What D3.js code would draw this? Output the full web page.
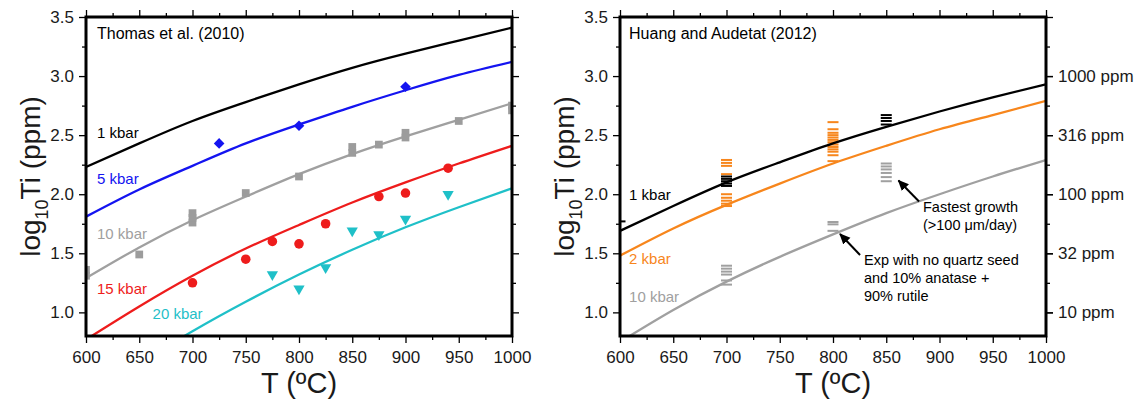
<!DOCTYPE html>
<html>
<head>
<meta charset="utf-8">
<script src="https://cdn.jsdelivr.net/npm/d3@7"></script>
<style>
  body { margin: 0; background: #fff; }
  text { font-family: "Liberation Sans", Arial, Helvetica, sans-serif; }
</style>
</head>
<body>
<svg id="chart" width="1140" height="404"></svg>
<script>
// temperatures (deg C) where the model curves were read
var temps = [600, 650, 700, 750, 800, 850, 900, 950, 1000];

// Thomas et al. (2010) curves, log10 Ti (ppm)
var thomas1kbar  = [2.23, 2.43, 2.62, 2.78, 2.93, 3.07, 3.19, 3.30, 3.41];
var thomas5kbar  = [1.81, 2.04, 2.24, 2.43, 2.59, 2.74, 2.88, 3.01, 3.12];
var thomas10kbar = [1.29, 1.55, 1.78, 1.98, 2.17, 2.34, 2.49, 2.63, 2.77];
var thomas15kbar = [0.77, 1.05, 1.31, 1.54, 1.74, 1.93, 2.10, 2.26, 2.41];
var thomas20kbar = [0.25, 0.56, 0.84, 1.09, 1.32, 1.53, 1.72, 1.89, 2.05];

// Huang and Audetat (2012) curves
var huang1kbar  = [1.69, 1.90, 2.10, 2.27, 2.43, 2.57, 2.70, 2.82, 2.93];
var huang2kbar  = [1.48, 1.71, 1.91, 2.09, 2.26, 2.41, 2.55, 2.67, 2.79];
var huang10kbar = [0.75, 1.02, 1.26, 1.47, 1.66, 1.84, 2.00, 2.15, 2.29];

// Thomas experiments
var diamondT = [725, 800, 900];
var diamondV = [2.43, 2.58, 2.91];
var squareT = [600, 600, 650, 700, 700, 700, 750, 800, 850, 850, 875, 900, 900, 950, 1000, 1000];
var squareV = [1.31, 1.36, 1.49, 1.76, 1.80, 1.84, 2.01, 2.15, 2.35, 2.40, 2.42, 2.48, 2.52, 2.62, 2.71, 2.75];
var circleT = [700, 750, 775, 800, 825, 875, 900, 940];
var circleV = [1.25, 1.45, 1.60, 1.58, 1.75, 1.98, 2.01, 2.22];
var triT = [775, 800, 825, 850, 875, 900, 940];
var triV = [1.32, 1.20, 1.38, 1.69, 1.66, 1.79, 2.00];

// Huang experiments (individual analyses)
var blackDashT = [600, 700, 700, 700, 700, 700, 850, 850, 850, 850];
var blackDashV = [1.77, 2.07, 2.09, 2.11, 2.13, 2.15, 2.59, 2.62, 2.645, 2.67];
var orangeDashT = [700, 700, 700, 700, 700, 700, 700, 700, 700,
                   800, 800, 800, 800, 800, 800, 800, 800, 800, 800, 800, 800, 800, 800];
var orangeDashV = [2.29, 2.265, 2.24, 2.17, 2.00, 1.97, 1.945, 1.92, 1.90,
                   2.61, 2.55, 2.52, 2.50, 2.48, 2.46, 2.44, 2.42, 2.40, 2.38, 2.36, 2.33, 2.28];
var grayDashT = [700, 700, 700, 700, 700, 700, 800, 800, 800, 850, 850, 850, 850, 850, 850];
var grayDashV = [1.395, 1.37, 1.345, 1.32, 1.27, 1.235, 1.765, 1.745, 1.69, 2.26, 2.235, 2.21, 2.18, 2.145, 2.11];

// axis ticks
var xMajor = [600, 650, 700, 750, 800, 850, 900, 950, 1000];
var xMinor = [625, 675, 725, 775, 825, 875, 925, 975];
var yMajor = [1.0, 1.5, 2.0, 2.5, 3.0, 3.5];
var yMinor = [1.25, 1.75, 2.25, 2.75, 3.25];
var ppmTicks = [1.0, 1.5, 2.0, 2.5, 3.0];
var ppmLabels = ["10 ppm", "32 ppm", "100 ppm", "316 ppm", "1000 ppm"];

var colBlack = "#000", colBlue = "#1414f0", colGray = "#a0a0a0", colRed = "#ee1c1c",
    colCyan = "#1fc0c8", colOrange = "#f7861c";

var svg = d3.select("#chart");
svg.append("rect").attr("width", 1140).attr("height", 404).attr("fill", "#fff");
var defs = svg.append("defs");

var y = d3.scaleLinear().domain([0.8, 3.5]).range([336, 17]);
var xLeft = d3.scaleLinear().domain([600, 1000]).range([86, 512]);
var xRight = d3.scaleLinear().domain([600, 1000]).range([620, 1046]);

defs.append("marker")
  .attr("id", "arrow")
  .attr("viewBox", "0 -5 10 10")
  .attr("refX", 9).attr("refY", 0)
  .attr("markerUnits", "userSpaceOnUse")
  .attr("markerWidth", 11).attr("markerHeight", 11)
  .attr("orient", "auto")
  .append("path").attr("d", "M0,-4.5L10,0L0,4.5Z").attr("fill", "#000");

function styleAxis(sel) {
  sel.select(".domain").remove();
  sel.selectAll(".tick line").attr("stroke", "#000").attr("stroke-width", 1.3);
  sel.selectAll(".tick text").attr("font-size", "17px").attr("fill", "#1a1a1a")
    .attr("font-family", "'Liberation Sans', Arial, sans-serif");
}

function drawAxes(g, x, ppm) {
  var x0 = x.range()[0], x1 = x.range()[1], yb = y.range()[0], yt = y.range()[1];
  g.append("g").attr("transform", "translate(0," + yb + ")")
    .call(d3.axisBottom(x).tickValues(xMajor).tickSize(7).tickPadding(8).tickFormat(d3.format("d")))
    .call(styleAxis);
  g.append("g").attr("transform", "translate(0," + yb + ")")
    .call(d3.axisBottom(x).tickValues(xMinor).tickSize(4).tickFormat(""))
    .call(styleAxis);
  g.append("g").attr("transform", "translate(0," + yt + ")")
    .call(d3.axisTop(x).tickValues(xMajor).tickSize(7).tickFormat(""))
    .call(styleAxis);
  g.append("g").attr("transform", "translate(0," + yt + ")")
    .call(d3.axisTop(x).tickValues(xMinor).tickSize(4).tickFormat(""))
    .call(styleAxis);
  g.append("g").attr("transform", "translate(" + x0 + ",0)")
    .call(d3.axisLeft(y).tickValues(yMajor).tickSize(7).tickPadding(5).tickFormat(d3.format(".1f")))
    .call(styleAxis);
  g.append("g").attr("transform", "translate(" + x0 + ",0)")
    .call(d3.axisLeft(y).tickValues(yMinor).tickSize(4).tickFormat(""))
    .call(styleAxis);
  g.append("g").attr("transform", "translate(" + x1 + ",0)")
    .call(d3.axisRight(y).tickValues(yMajor).tickSize(7).tickFormat(""))
    .call(styleAxis);
  g.append("g").attr("transform", "translate(" + x1 + ",0)")
    .call(d3.axisRight(y).tickValues(yMinor).tickSize(4).tickFormat(""))
    .call(styleAxis);
  if (ppm) {
    g.append("g").attr("transform", "translate(" + x1 + ",0)")
      .call(d3.axisRight(y).tickValues(ppmTicks).tickSize(7).tickPadding(5)
        .tickFormat(function (d, i) { return ppmLabels[i]; }))
      .call(styleAxis);
  }

  // axis titles
  g.append("text")
    .attr("x", (x0 + x1) / 2).attr("y", 393)
    .attr("text-anchor", "middle").attr("font-size", "29px").attr("fill", "#1a1a1a")
    .text("T (\u00baC)");
  var yt2 = g.append("text")
    .attr("transform", "translate(" + (x0 - 46) + "," + ((yb + yt) / 2) + ") rotate(-90)")
    .attr("text-anchor", "middle").attr("font-size", "28px").attr("fill", "#1a1a1a");
  yt2.append("tspan").text("log");
  yt2.append("tspan").attr("font-size", "18px").attr("dy", 8).text("10");
  yt2.append("tspan").attr("dy", -8).text("Ti (ppm)");
}

function makeClip(id, x) {
  defs.append("clipPath").attr("id", id).append("rect")
    .attr("x", x.range()[0]).attr("y", y.range()[1])
    .attr("width", x.range()[1] - x.range()[0])
    .attr("height", y.range()[0] - y.range()[1]);
}

function drawCurve(g, x, values, color) {
  var line = d3.line()
    .x(function (d, i) { return x(temps[i]); })
    .y(function (d) { return y(d); })
    .curve(d3.curveNatural);
  g.append("path").datum(values)
    .attr("d", line)
    .attr("fill", "none")
    .attr("stroke", color)
    .attr("stroke-width", 2.3);
}

function drawSymbols(g, x, ts, vs, type, size, color, rotate) {
  var sym = d3.symbol().type(type).size(size);
  g.selectAll(null).data(vs).enter()
    .append("path")
    .attr("d", sym)
    .attr("fill", color)
    .attr("transform", function (d, i) {
      return "translate(" + x(ts[i]) + "," + y(d) + ")" + (rotate ? " rotate(" + rotate + ")" : "");
    });
}

function drawDashes(g, x, ts, vs, color) {
  g.selectAll(null).data(vs).enter()
    .append("line")
    .attr("x1", function (d, i) { return x(ts[i]) - 5.5; })
    .attr("x2", function (d, i) { return x(ts[i]) + 5.5; })
    .attr("y1", function (d) { return y(d); })
    .attr("y2", function (d) { return y(d); })
    .attr("stroke", color)
    .attr("stroke-width", 2);
}

function addLabel(g, x, t, v, txt, color, size) {
  g.append("text")
    .attr("x", x(t)).attr("y", y(v))
    .attr("font-size", size || "15px")
    .attr("fill", color)
    .text(txt);
}

function drawFrame(g, x) {
  g.append("rect")
    .attr("x", x.range()[0]).attr("y", y.range()[1])
    .attr("width", x.range()[1] - x.range()[0])
    .attr("height", y.range()[0] - y.range()[1])
    .attr("fill", "none").attr("stroke", "#000").attr("stroke-width", 3);
}

// ---- left panel: Thomas et al. (2010)
makeClip("clipL", xLeft);
var gL = svg.append("g");
drawAxes(gL, xLeft, false);
var plotL = gL.append("g").attr("clip-path", "url(#clipL)");
drawCurve(plotL, xLeft, thomas1kbar, colBlack);
drawCurve(plotL, xLeft, thomas5kbar, colBlue);
drawCurve(plotL, xLeft, thomas10kbar, colGray);
drawCurve(plotL, xLeft, thomas15kbar, colRed);
drawCurve(plotL, xLeft, thomas20kbar, colCyan);
drawSymbols(plotL, xLeft, diamondT, diamondV, d3.symbolDiamond2, 72, colBlue);
drawSymbols(plotL, xLeft, squareT, squareV, d3.symbolSquare, 60, "#9c9c9c");
drawSymbols(plotL, xLeft, circleT, circleV, d3.symbolCircle, 72, colRed);
drawSymbols(plotL, xLeft, triT, triV, d3.symbolTriangle, 55, colCyan, 180);
addLabel(gL, xLeft, 610.3, 3.315, "Thomas et al. (2010)", "#000", "16px");
addLabel(gL, xLeft, 610.3, 2.476, "1 kbar", colBlack);
addLabel(gL, xLeft, 610.3, 2.086, "5 kbar", colBlue);
addLabel(gL, xLeft, 610.3, 1.621, "10 kbar", colGray);
addLabel(gL, xLeft, 610.3, 1.155, "15 kbar", colRed);
addLabel(gL, xLeft, 662.5, 0.944, "20 kbar", colCyan);
drawFrame(gL, xLeft);

// ---- right panel: Huang and Audetat (2012)
makeClip("clipR", xRight);
var gR = svg.append("g");
drawAxes(gR, xRight, true);
var plotR = gR.append("g").attr("clip-path", "url(#clipR)");
drawDashes(plotR, xRight, orangeDashT, orangeDashV, colOrange);
drawDashes(plotR, xRight, grayDashT, grayDashV, colGray);
drawDashes(plotR, xRight, blackDashT, blackDashV, colBlack);
drawCurve(plotR, xRight, huang1kbar, colBlack);
drawCurve(plotR, xRight, huang2kbar, colOrange);
drawCurve(plotR, xRight, huang10kbar, colGray);
addLabel(gR, xRight, 608.5, 3.315, "Huang and Audetat (2012)", "#000", "16px");
addLabel(gR, xRight, 608.5, 1.947, "1 kbar", colBlack);
addLabel(gR, xRight, 608.5, 1.409, "2 kbar", colOrange);
addLabel(gR, xRight, 608.5, 1.088, "10 kbar", colGray);

// annotations (tail -> head, in data units)
var notes = [
  { t: 880.8, v: 1.938, t2: 861.5, v2: 2.116 },
  { t: 825.4, v: 1.486, t2: 806.6, v2: 1.663 }
];
gR.selectAll(null).data(notes).enter()
  .append("line")
  .attr("x1", function (d) { return xRight(d.t); })
  .attr("y1", function (d) { return y(d.v); })
  .attr("x2", function (d) { return xRight(d.t2); })
  .attr("y2", function (d) { return y(d.v2); })
  .attr("stroke", "#000").attr("stroke-width", 2)
  .attr("marker-end", "url(#arrow)");
addLabel(gR, xRight, 884.5, 1.852, "Fastest growth", "#000", "14.5px");
addLabel(gR, xRight, 884.5, 1.697, "(>100 \u03bcm/day)", "#000", "14.5px");
addLabel(gR, xRight, 829.1, 1.397, "Exp with no quartz seed", "#000", "14.5px");
addLabel(gR, xRight, 829.1, 1.249, "and 10% anatase +", "#000", "14.5px");
addLabel(gR, xRight, 829.1, 1.100, "90% rutile", "#000", "14.5px");
drawFrame(gR, xRight);
</script>
</body>
</html>
